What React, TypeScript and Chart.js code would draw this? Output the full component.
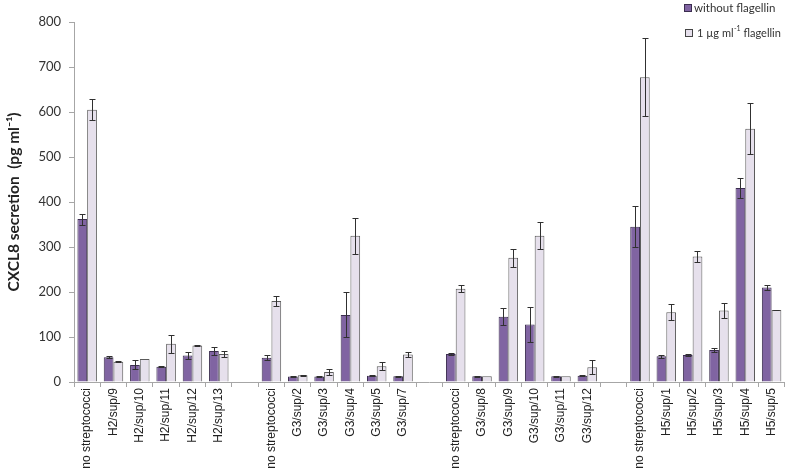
import { useEffect, useRef } from "react";
import { Chart, registerables } from "chart.js";

Chart.register(...registerables);

const categories = [
  "no streptococci", "H2/sup/9", "H2/sup/10", "H2/sup/11", "H2/sup/12", "H2/sup/13", "",
  "no streptococci", "G3/sup/2", "G3/sup/3", "G3/sup/4", "G3/sup/5", "G3/sup/7", "",
  "no streptococci", "G3/sup/8", "G3/sup/9", "G3/sup/10", "G3/sup/11", "G3/sup/12", "",
  "no streptococci", "H5/sup/1", "H5/sup/2", "H5/sup/3", "H5/sup/4", "H5/sup/5",
];

const withoutFlagellin = [
  362, 55, 38, 34, 59, 69, null,
  54, 12, 12, 149, 14, 13, null,
  62, 13, 145, 128, 13, 14, null,
  345, 57, 60, 71, 431, 210,
];
const withoutFlagellinErr = [
  12, 2, 10, 1, 7, 9, null,
  6, 1, 1, 50, 1, 1, null,
  3, 1, 19, 39, 1, 1, null,
  46, 3, 2, 5, 23, 6,
];

const withFlagellin = [
  605, 45, 51, 85, 81, 62, null,
  180, 15, 22, 325, 35, 61, null,
  207, 13, 276, 325, 13, 33, null,
  677, 155, 279, 159, 563, 160,
];
const withFlagellinErr = [
  23, 1, 0, 20, 1, 7, null,
  12, 1, 6, 40, 9, 6, null,
  8, 0, 20, 30, 0, 15, null,
  87, 18, 13, 16, 57, 1,
];

const yTicks = [0, 100, 200, 300, 400, 500, 600, 700, 800];

const seriesNames = ["without flagellin", "1 µg ml", "-1", " flagellin"];

const PURPLE = "#8064a2";
const PURPLE_BORDER = "#3b2d4f";
const LIGHT = "#e6e0ec";
const LIGHT_BORDER = "#5a5a5a";

export default function App() {
  const ref = useRef<HTMLCanvasElement>(null);

  useEffect(() => {
    document.body.style.margin = "0";
    const canvas = ref.current;
    if (!canvas) return;

    const errs = [withoutFlagellinErr, withFlagellinErr];

    const errorBars = {
      id: "errorBars",
      afterDatasetsDraw(chart: any) {
        const ctx = chart.ctx;
        const y = chart.scales.y;
        chart.data.datasets.forEach((ds: any, di: number) => {
          const meta = chart.getDatasetMeta(di);
          meta.data.forEach((bar: any, i: number) => {
            const v = ds.data[i];
            const e = errs[di][i];
            if (v == null || e == null || e <= 0) return;
            const x = Math.round(bar.x) + 0.5;
            const top = Math.round(y.getPixelForValue(v + e)) + 0.5;
            const bot = Math.round(y.getPixelForValue(v - e)) + 0.5;
            ctx.save();
            ctx.strokeStyle = "#303030";
            ctx.lineWidth = 1;
            ctx.beginPath();
            ctx.moveTo(x, top);
            ctx.lineTo(x, bot);
            ctx.moveTo(x - 3, top);
            ctx.lineTo(x + 3, top);
            ctx.moveTo(x - 3, bot);
            ctx.lineTo(x + 3, bot);
            ctx.stroke();
            ctx.restore();
          });
        });
      },
    };

    const legendPlugin = {
      id: "customLegend",
      afterDraw(chart: any) {
        const ctx = chart.ctx;
        ctx.save();
        ctx.textBaseline = "middle";
        ctx.font = "11.5px Lato";
        // item 1
        ctx.fillStyle = PURPLE;
        ctx.fillRect(684, 4, 7, 7);
        ctx.strokeStyle = PURPLE_BORDER;
        ctx.lineWidth = 1;
        ctx.strokeRect(684.5, 4.5, 7, 7);
        ctx.fillStyle = "#333";
        ctx.fillText(seriesNames[0], 694, 8);
        // item 2
        ctx.fillStyle = LIGHT;
        ctx.fillRect(685, 29, 7, 7);
        ctx.strokeStyle = "#444";
        ctx.strokeRect(685.5, 29.5, 7, 7);
        ctx.fillStyle = "#333";
        let x = 697;
        ctx.font = "11px Lato";
        ctx.fillText(seriesNames[1], x, 33);
        x += ctx.measureText(seriesNames[1]).width + 0.5;
        ctx.font = "7px Lato";
        ctx.fillText(seriesNames[2], x, 29);
        x += ctx.measureText(seriesNames[2]).width;
        ctx.font = "11px Lato";
        ctx.fillText(seriesNames[3], x, 33);
        ctx.restore();
      },
    };

    const chart = new Chart(canvas, {
      type: "bar",
      data: {
        labels: categories,
        datasets: [
          {
            label: "without flagellin",
            data: withoutFlagellin as any,
            backgroundColor: PURPLE,
            borderColor: PURPLE_BORDER,
            borderWidth: 1,
            categoryPercentage: 0.74,
            barPercentage: 1,
          },
          {
            label: "1 µg ml⁻¹ flagellin",
            data: withFlagellin as any,
            backgroundColor: LIGHT,
            borderColor: LIGHT_BORDER,
            borderWidth: 1,
            categoryPercentage: 0.74,
            barPercentage: 1,
          },
        ],
      },
      options: {
        responsive: true,
        maintainAspectRatio: false,
        animation: false,
        layout: { padding: { top: 22, right: 0, left: 0, bottom: 0 } },
        plugins: {
          legend: { display: false },
          tooltip: { enabled: false },
        },
        scales: {
          x: {
            grid: {
              offset: true,
              drawOnChartArea: false,
              drawTicks: true,
              tickLength: 5,
              color: "#a6a6a6",
            },
            border: { color: "#a6a6a6" },
            ticks: {
              autoSkip: false,
              minRotation: 90,
              maxRotation: 90,
              padding: 1,
              color: "#222",
              font: { family: "'Liberation Sans', Arial", size: 12 },
            },
            afterFit(scale: any) {
              scale.height = 92;
            },
          },
          y: {
            min: 0,
            max: 800,
            afterBuildTicks(scale: any) {
              scale.ticks = yTicks.map((v) => ({ value: v }));
            },
            grid: {
              drawOnChartArea: false,
              drawTicks: true,
              tickLength: 5,
              color: "#a6a6a6",
            },
            border: { color: "#a6a6a6" },
            ticks: {
              padding: 8,
              color: "#333",
              font: { family: "Lato", size: 13 },
            },
            title: {
              display: true,
              text: "CXCL8 secretion  (pg ml⁻¹)",
              color: "#222",
              font: { family: "Lato", size: 15.5, weight: "bold" },
              padding: { top: 5, bottom: 4 },
            },
            afterFit(scale: any) {
              scale.width = 74;
            },
          },
        },
      },
      plugins: [errorBars, legendPlugin],
    });

    return () => chart.destroy();
  }, []);

  return (
    <div style={{ width: 787, height: 474, position: "relative" }}>
      <canvas ref={ref} />
    </div>
  );
}
